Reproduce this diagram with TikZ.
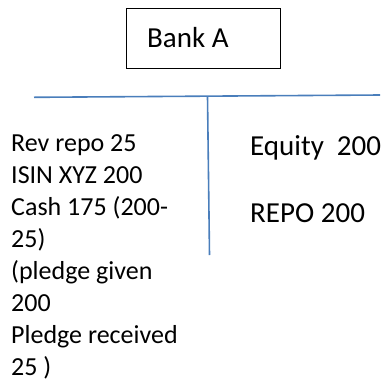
\documentclass[tikz,border=0pt]{standalone}
\usepackage{fontspec}
\setmainfont{Carlito}
\definecolor{tblue}{HTML}{4A7EBB}
\begin{document}
\begin{tikzpicture}[x=1pt,y=-1pt,
  body/.style={anchor=base west,inner sep=0pt,font=\fontsize{26}{31.7}\selectfont},
  big/.style={anchor=base west,inner sep=0pt,font=\fontsize{29}{34}\selectfont},
  tline/.style={draw=tblue,line width=1.6pt}]
\useasboundingbox (0,0) rectangle (385,381);
% title box
\draw[line width=1pt] (126,8) rectangle (280,68);
\node[big] (bank) at (147,47) {Bank A};
% T-account rules
\coordinate (hl) at (34,97.3);
\coordinate (hr) at (380,95);
\coordinate (vt) at (207.5,96.5);
\coordinate (vb) at (209.5,255);
\draw[tline] (hl) -- (hr);
\draw[tline] (vt) -- (vb);
% assets side
\node[body] (l1) at (11,151.5) {Rev repo 25};
\node[body] (l2) at (11,183.3) {ISIN XYZ 200};
\node[body] (l3) at (11,215) {Cash 175 (200-};
\node[body] (l4) at (11,247) {25)};
\node[body] (l5) at (11,279) {(pledge given};
\node[body] (l6) at (11,311) {200};
\node[body] (l7) at (11,343) {Pledge received};
\node[body] (l8) at (11,375.5) {25 )};
% liabilities side
\node[big] (r1) at (250,155.7) {Equity~~200};
\node[big] (r2) at (250,222.7) {REPO 200};
\end{tikzpicture}
\end{document}
